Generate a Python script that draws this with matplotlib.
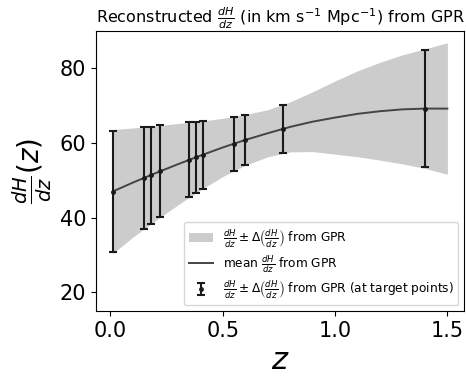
import numpy as np
from matplotlib import pyplot as plt

# GPR reconstruction on a coarse grid
z_grid = [0.01, 0.1, 0.2, 0.3, 0.4, 0.5, 0.6, 0.7, 0.8, 0.9, 1.0, 1.1, 1.2, 1.3, 1.4, 1.5]
mean_grid = [47.0, 49.4, 51.9, 54.3, 56.6, 58.8, 60.8, 62.6, 64.3, 65.7, 66.8, 67.8, 68.5, 69.0, 69.2, 69.2]
sigma_grid = [16.6, 14.6, 12.7, 10.9, 9.2, 7.8, 6.8, 6.3, 6.7, 8.0, 9.8, 11.5, 13.1, 14.6, 16.0, 17.6]

# target points
z_pts = [0.01, 0.15, 0.18, 0.22, 0.35, 0.38, 0.41, 0.55, 0.60, 0.77, 1.40]
mean_pts = [47.0, 50.7, 51.4, 52.4, 55.5, 56.2, 56.8, 59.8, 60.8, 63.8, 69.2]
err_pts = [16.3, 13.7, 13.0, 12.3, 10.0, 9.5, 9.0, 7.2, 6.7, 6.4, 15.7]

z_grid = np.array(z_grid)
mean_grid = np.array(mean_grid)
sigma_grid = np.array(sigma_grid)

fig = plt.figure(figsize=(4.66, 3.77), dpi=100)
ax = fig.add_axes([0.206, 0.175, 0.79, 0.743])

band = ax.fill_between(z_grid, mean_grid - sigma_grid, mean_grid + sigma_grid,
                       color='#cccccc', lw=0)
line, = ax.plot(z_grid, mean_grid, color='#444444', lw=1.4)
eb = ax.errorbar(z_pts, mean_pts, yerr=err_pts, fmt='.', color='#1a1a1a',
                 ms=5, elinewidth=1.5, capsize=3, capthick=1.5)

ax.legend([band, line, eb],
          [r'$\frac{dH}{dz} \pm \Delta\left(\frac{dH}{dz}\right)$ from GPR',
           r'mean $\frac{dH}{dz}$ from GPR',
           r'$\frac{dH}{dz} \pm \Delta\left(\frac{dH}{dz}\right)$ from GPR (at target points)'],
          loc='lower right', fontsize=8.7, labelspacing=0.3)

ax.set_ylim(15, 90)
ax.set_xticks([0.0, 0.5, 1.0, 1.5])
ax.set_yticks([20, 40, 60, 80])
ax.tick_params(labelsize=15)
ax.set_xlabel(r'$z$', fontsize=22)
ax.set_ylabel(r'$\frac{dH}{dz}(z)$', fontsize=20)
ax.set_title(r'Reconstructed $\frac{dH}{dz}$ (in km s$^{-1}$ Mpc$^{-1}$) from GPR', fontsize=11.5)

fig.savefig('out.png', dpi=100)
